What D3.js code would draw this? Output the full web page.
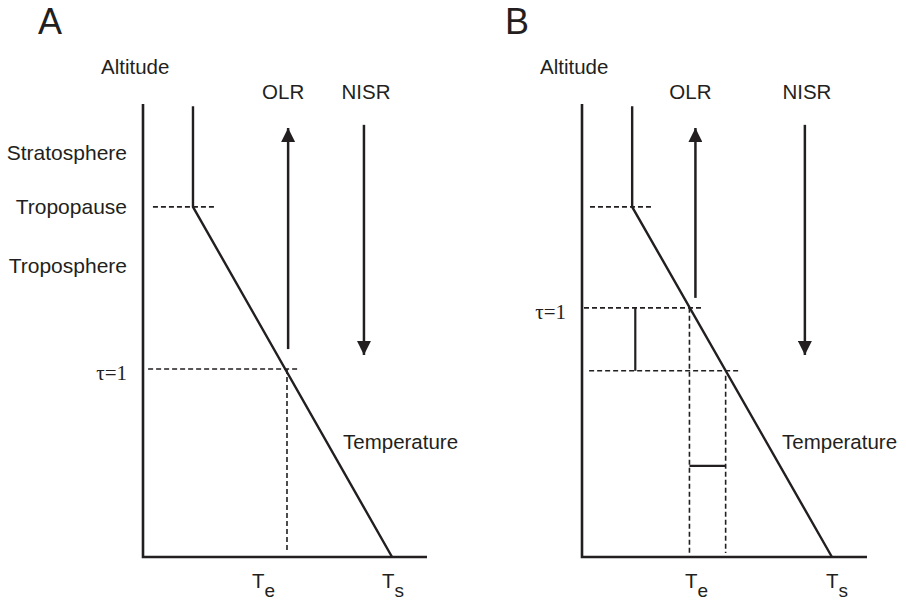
<!DOCTYPE html>
<html>
<head>
<meta charset="utf-8">
<script src="https://cdn.jsdelivr.net/npm/d3@7"></script>
<style>
  html, body { margin: 0; padding: 0; background: #fff; }
  svg { display: block; }
  text { font-family: "Liberation Sans", Arial, sans-serif; fill: #231f20; }
</style>
</head>
<body>
<svg id="chart" width="906" height="600"></svg>
<script>
// ---- data (temperature units 0..100 along x, altitude units 0..100 along y) ----
const panelNames = ["A", "B"];
const profileT = [17.6, 17.6, 87.7];
const profileZ = [99.5, 77.3, 0];
const tropopauseZ = 77.3;
const tropoStartT = [3.5, 2.8];
const tropoEndT = [25.4, 24.6];
// tau levels per panel
const tauZ_A = [41.5];
const tauStartT_A = [1.8];
const tauEndT_A = [54.6];
const tauZ_B = [55.0, 41.1];
const tauStartT_B = [0.7, 2.5];
const tauEndT_B = [41.9, 55.3];
// dashed verticals (temperature where tau level meets the profile)
const vertT_A = [50.7];
const vertTopZ_A = [41.5];
const vertT_B = [37.7, 50.4];
const vertTopZ_B = [55.0, 40.0];
const vertBottomZ = 0.9;
// B brackets
const bracketVT = 18.7;
const bracketVZ = [55.0, 41.1];
const bracketHZ = 20.1;
const bracketHT = [37.7, 50.4];
// arrows: OLR (up) and NISR (down)
const olrT = [51.1, 39.8];
const olrZ_from = [45.9, 57.2];
const olrZ_to = 94.7;
const nisrT = [77.8, 78.2];
const nisrZ_from = 95.4;
const nisrZ_to = 44.6;
// labels
const layerLabels = ["Stratosphere", "Tropopause", "Troposphere"];
const tauLabel = "τ=1";
const axisLabel = "Altitude";
const tempLabel = "Temperature";

// ---- layout ----
const svg = d3.select("#chart");
const ink = "#231f20";
const y = d3.scaleLinear().domain([0, 100]).range([557, 104]);
const xRanges = [[143, 427], [582, 867]];
const letterX = [38, 505];
const teLabelX = [252, 685];
const tsLabelX = [382, 826];

svg.append("defs").append("marker")
  .attr("id", "head").attr("viewBox", "0 0 14 14")
  .attr("refX", 14).attr("refY", 7)
  .attr("markerWidth", 14).attr("markerHeight", 14)
  .attr("markerUnits", "userSpaceOnUse")
  .attr("orient", "auto")
  .append("path").attr("d", "M0,0 L14,7 L0,14 Z").attr("fill", ink);

panelNames.forEach((name, i) => {
  const x = d3.scaleLinear().domain([0, 100]).range(xRanges[i]);
  const g = svg.append("g");
  const x0 = x(0);

  // panel letter
  g.append("text").attr("x", letterX[i]).attr("y", 34)
    .attr("font-size", 36).text(name);

  // axes (L shape)
  g.append("path")
    .attr("d", `M${x0},${y(100)} L${x0},${y(0)} L${x(100)},${y(0)}`)
    .attr("fill", "none").attr("stroke", ink).attr("stroke-width", 2.6);

  // Altitude label
  g.append("text").attr("x", x0 - 42).attr("y", 74)
    .attr("font-size", 20.5).text(axisLabel);

  const dashed = (x1, y1, x2, y2) => g.append("line")
    .attr("x1", x1).attr("y1", y1).attr("x2", x2).attr("y2", y2)
    .attr("stroke", ink).attr("stroke-width", 1.6)
    .attr("stroke-dasharray", "5,3");
  const solid = (x1, y1, x2, y2, w) => g.append("line")
    .attr("x1", x1).attr("y1", y1).attr("x2", x2).attr("y2", y2)
    .attr("stroke", ink).attr("stroke-width", w || 2.2);

  // tropopause dashed
  dashed(x(tropoStartT[i]), y(tropopauseZ), x(tropoEndT[i]), y(tropopauseZ));

  // tau levels and verticals
  const tz = i === 0 ? tauZ_A : tauZ_B;
  const ts = i === 0 ? tauStartT_A : tauStartT_B;
  const te = i === 0 ? tauEndT_A : tauEndT_B;
  tz.forEach((z, k) => dashed(x(ts[k]), y(z), x(te[k]), y(z)));
  const vt = i === 0 ? vertT_A : vertT_B;
  const vz = i === 0 ? vertTopZ_A : vertTopZ_B;
  vt.forEach((t, k) => dashed(x(t), y(vz[k]), x(t), y(vertBottomZ)));

  if (i === 1) {
    solid(x(bracketVT), y(bracketVZ[0]), x(bracketVT), y(bracketVZ[1]), 2.2);
    solid(x(bracketHT[0]), y(bracketHZ), x(bracketHT[1]), y(bracketHZ), 2.2);
  }

  // temperature profile
  const line = d3.line().x(d => x(d[0])).y(d => y(d[1]));
  g.append("path")
    .attr("d", line(profileT.map((t, k) => [t, profileZ[k]])))
    .attr("fill", "none").attr("stroke", ink).attr("stroke-width", 2.4)
    .attr("stroke-linejoin", "miter");

  // arrows
  solid(x(olrT[i]), y(olrZ_from[i]), x(olrT[i]), y(olrZ_to), 2.5).attr("marker-end", "url(#head)");
  solid(x(nisrT[i]), y(nisrZ_from), x(nisrT[i]), y(nisrZ_to), 2.5).attr("marker-end", "url(#head)");

  // arrow labels
  g.append("text").attr("x", x(olrT[i]) - 5).attr("y", 99)
    .attr("font-size", 20.5).attr("text-anchor", "middle").text("OLR");
  g.append("text").attr("x", x(nisrT[i]) + 2).attr("y", 99)
    .attr("font-size", 20.5).attr("text-anchor", "middle").text("NISR");

  // layer labels (panel A only)
  if (i === 0) {
    const baselines = [160, 214, 273];
    layerLabels.forEach((s, k) => g.append("text")
      .attr("x", x0 - 16).attr("y", baselines[k])
      .attr("font-size", 21).attr("text-anchor", "end").text(s));
  }

  // tau label
  g.append("text").attr("x", x0 - 16).attr("y", y(tz[0]) + 11)
    .attr("font-size", 21).attr("text-anchor", "end")
    .style("font-family", "'Liberation Serif', 'Times New Roman', serif")
    .text(tauLabel);

  // Temperature label
  g.append("text").attr("x", x0 + 200).attr("y", 449)
    .attr("font-size", 20.5).text(tempLabel);

  // Te, Ts
  const te_t = g.append("text").attr("x", teLabelX[i]).attr("y", 588).attr("font-size", 20.5);
  te_t.append("tspan").text("T");
  te_t.append("tspan").attr("dy", 9).attr("font-size", 19).text("e");
  const ts_t = g.append("text").attr("x", tsLabelX[i]).attr("y", 588).attr("font-size", 20.5);
  ts_t.append("tspan").text("T");
  ts_t.append("tspan").attr("dy", 9).attr("font-size", 19).text("s");
});
</script>
</body>
</html>
